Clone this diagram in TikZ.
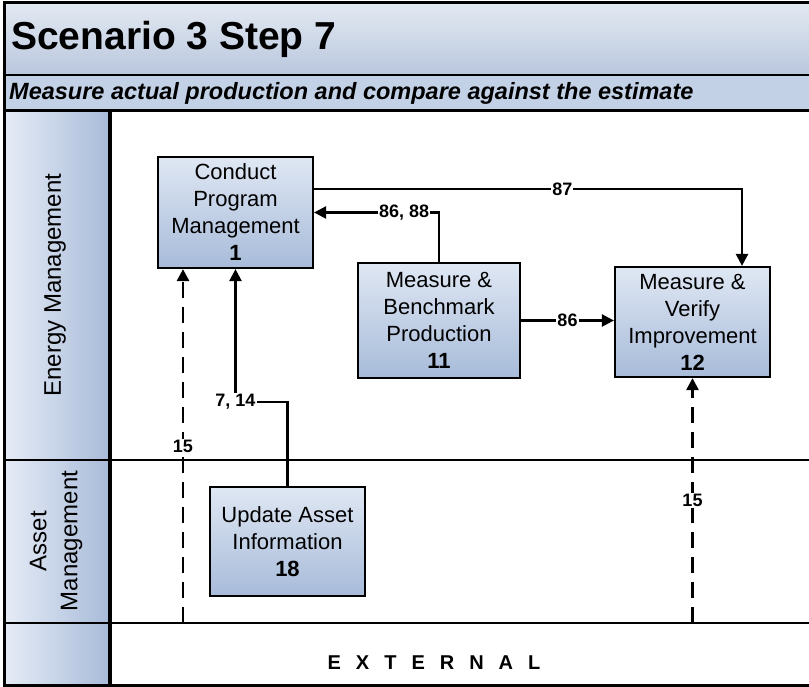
\documentclass[tikz,border=0pt]{standalone}
\usepackage{fontspec}
\setmainfont{Liberation Sans}
\usepackage{tikz}
\usetikzlibrary{arrows.meta}

\definecolor{boxhi}{HTML}{DFE7F3}
\definecolor{boxlo}{HTML}{A7BBD9}
\definecolor{titlehi}{HTML}{E3E9F2}
\definecolor{titlelo}{HTML}{B9C7DD}
\definecolor{subband}{HTML}{C3D1E7}
\definecolor{lanehi}{HTML}{E6ECF6}
\definecolor{lanelo}{HTML}{A8BBD9}

\begin{document}
\begin{tikzpicture}[x=1pt, y=-1pt]
    \tikzstyle{activity} = [rectangle, draw, line width=2.2pt, top color=boxhi, bottom color=boxlo, align=center, inner sep=0pt, font=\fontsize{22}{27}\selectfont]
    \tikzstyle{flowlbl} = [fill=white, inner sep=1pt, font=\fontsize{18}{18}\selectfont\bfseries]
    \tikzstyle{flow} = [line width=2.4pt, -{Triangle[length=12pt, width=12pt]}]
    \tikzstyle{altflow} = [flow, line width=2.8pt, dash pattern=on 16pt off 9pt]
    \tikzstyle{lanelbl} = [rotate=90, align=center, font=\fontsize{24}{31}\selectfont]

    \useasboundingbox (0,0) rectangle (809,687);

    % Header bands and lane column
    \shade[top color=titlehi, bottom color=titlelo] (4,3) rectangle (812,75);
    \fill[subband] (4,75) rectangle (812,111);
    \shade[left color=lanehi, right color=lanelo] (4,111) rectangle (110,685);

    % Frame and lane lines
    \draw[line width=3pt] (812,3) -- (4,3) -- (4,685) -- (812,685);
    \draw[line width=1.8pt] (4,75) -- (812,75);
    \draw[line width=3pt] (4,111) -- (812,111);
    \draw[line width=3.5pt] (110,111) -- (110,685);
    \draw[line width=2.4pt] (4,460) -- (812,460);
    \draw[line width=2.4pt] (4,623) -- (812,623);

    % Titles
    \node[anchor=west, inner sep=0pt, font=\fontsize{39}{44}\selectfont\bfseries] (title) at (11,39) {Scenario 3 Step 7};
    \node[anchor=west, inner sep=0pt, font=\fontsize{23.5}{26}\selectfont\bfseries\itshape] (subtitle) at (9,93) {Measure actual production and compare against the estimate};

    % Lanes
    \node[lanelbl] (energy) at (55,285) {Energy Management};
    \node[lanelbl] (asset) at (56,541) {Asset\\Management};
    \node[font=\fontsize{20}{20}\selectfont\bfseries] (external) at (434,663) {\spaceskip=15pt\relax E X T E R N A L};

    % Activities
    \node[activity, minimum width=155pt, minimum height=111pt] (cpm) at (235.5,212.5) {Conduct\\Program\\Management\\\textbf{1}};
    \node[activity, minimum width=162pt, minimum height=115pt] (mbp) at (439,320.5) {Measure \&\\Benchmark\\Production\\\textbf{11}};
    \node[activity, minimum width=155pt, minimum height=110pt] (mvi) at (692.5,322) {Measure \&\\Verify\\Improvement\\\textbf{12}};
    \node[activity, minimum width=155pt, minimum height=109pt] (uai) at (287.5,541.5) {Update Asset\\Information\\\textbf{18}};

    % Flows
    \draw[flow] (mbp.north) |- node[flowlbl, pos=0.64] {86, 88} (cpm.east);
    \draw[flow] ([yshift=23.5pt]cpm.east) -| node[flowlbl, pos=0.29] {87} ([xshift=49.5pt]mvi.north);
    \draw[flow] (mbp.east) -- node[flowlbl] {86} (mbp.east -| mvi.west);

    \node[flowlbl] (n714) at (235.5,402) {7, 14};
    \draw[line width=2.4pt] (uai.north) |- (n714.east);
    \draw[flow] (n714) -- (cpm.south);

    % External inputs
    \coordinate (ext1) at (183,623);
    \coordinate (ext2) at (692.5,623);
    \draw[altflow] (ext1) -- node[flowlbl] {15} (ext1 |- cpm.south);
    \draw[altflow] (ext2) -- node[flowlbl] {15} (mvi.south);

\end{tikzpicture}
\end{document}
